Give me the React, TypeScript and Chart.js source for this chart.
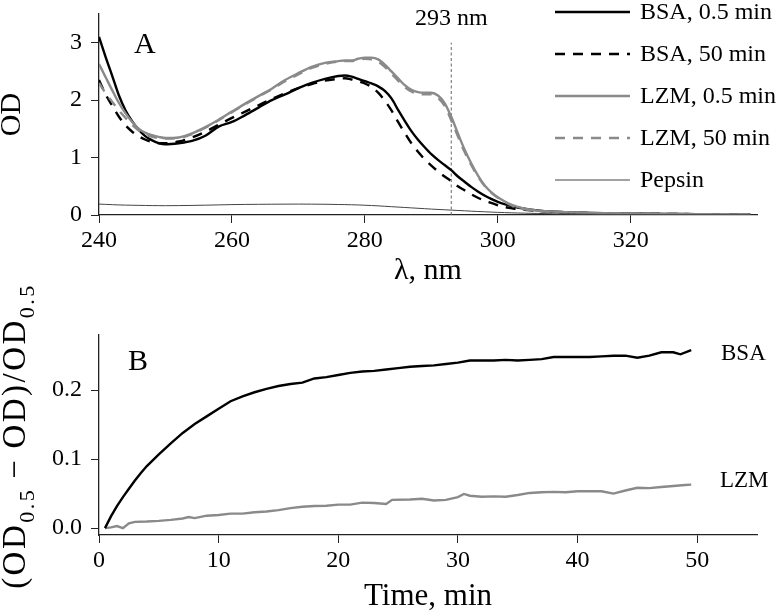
import React, { useEffect, useRef } from 'react';
import { Chart, registerables } from 'chart.js';

Chart.register(...registerables);

const SERIF = '"Liberation Serif", "Times New Roman", serif';

// ---------- Panel A: absorption spectra ----------
const wavelength = [
  240, 241, 242, 243, 244, 245, 246, 247, 248, 249,
  250, 252, 254, 256, 258, 260, 262, 264, 266, 268,
  270, 272, 274, 276, 277, 278, 279, 280, 281, 282,
  283, 284, 285, 286, 287, 288, 289, 290, 291, 292,
  293, 294, 295, 296, 297, 298, 299, 300, 301, 302,
  303, 304, 306, 308, 310, 313, 316, 320, 325, 330,
  338,
];
const bsa05 = [
  3.10, 2.75, 2.42, 2.08, 1.82, 1.63, 1.48, 1.37, 1.30, 1.25,
  1.23, 1.25, 1.29, 1.38, 1.54, 1.62, 1.74, 1.87, 2.00, 2.10,
  2.21, 2.30, 2.37, 2.42, 2.43, 2.41, 2.37, 2.33, 2.29, 2.24,
  2.16, 2.03, 1.83, 1.64, 1.46, 1.31, 1.18, 1.06, 0.96, 0.87,
  0.78, 0.67, 0.58, 0.49, 0.41, 0.34, 0.28, 0.23, 0.19, 0.16,
  0.13, 0.11, 0.08, 0.06, 0.05, 0.04, 0.03, 0.025, 0.02, 0.015,
  0.01,
];
const bsa50 = [
  2.35, 2.10, 1.90, 1.71, 1.56, 1.45, 1.37, 1.31, 1.27, 1.25,
  1.25, 1.28, 1.35, 1.45, 1.57, 1.69, 1.80, 1.91, 2.02, 2.12,
  2.21, 2.28, 2.34, 2.37, 2.38, 2.36, 2.33, 2.29, 2.23, 2.13,
  1.99, 1.82, 1.62, 1.43, 1.25, 1.10, 0.97, 0.86, 0.76, 0.67,
  0.59, 0.50, 0.43, 0.36, 0.30, 0.25, 0.21, 0.17, 0.14, 0.12,
  0.10, 0.09, 0.07, 0.05, 0.045, 0.035, 0.03, 0.025, 0.02, 0.015,
  0.01,
];
const lzm05 = [
  2.63, 2.40, 2.17, 1.95, 1.77, 1.62, 1.50, 1.43, 1.39, 1.36,
  1.34, 1.35, 1.42, 1.53, 1.66, 1.80, 1.94, 2.07, 2.20, 2.35,
  2.47, 2.58, 2.65, 2.68, 2.69, 2.69, 2.72, 2.74, 2.74, 2.71,
  2.62, 2.50, 2.38, 2.26, 2.18, 2.14, 2.13, 2.13, 2.08, 1.95,
  1.71, 1.42, 1.14, 0.90, 0.69, 0.52, 0.40, 0.31, 0.24, 0.18,
  0.14, 0.11, 0.075, 0.06, 0.05, 0.04, 0.03, 0.025, 0.02, 0.015,
  0.01,
];
const lzm50 = [
  2.30, 2.12, 1.97, 1.82, 1.69, 1.57, 1.47, 1.40, 1.36, 1.34,
  1.33, 1.34, 1.41, 1.52, 1.65, 1.79, 1.93, 2.06, 2.19, 2.33,
  2.45, 2.56, 2.63, 2.67, 2.68, 2.68, 2.70, 2.72, 2.71, 2.67,
  2.58, 2.46, 2.34, 2.23, 2.15, 2.11, 2.10, 2.10, 2.04, 1.90,
  1.65, 1.37, 1.10, 0.87, 0.67, 0.51, 0.39, 0.30, 0.23, 0.17,
  0.13, 0.10, 0.07, 0.055, 0.045, 0.035, 0.03, 0.025, 0.02, 0.015,
  0.01,
];
const pepsin = [
  0.19, 0.185, 0.18, 0.175, 0.172, 0.17, 0.168, 0.166, 0.164, 0.163,
  0.162, 0.164, 0.167, 0.171, 0.176, 0.181, 0.184, 0.186, 0.188, 0.189,
  0.19, 0.189, 0.187, 0.183, 0.181, 0.178, 0.175, 0.17, 0.165, 0.159,
  0.152, 0.145, 0.138, 0.131, 0.124, 0.117, 0.11, 0.103, 0.097, 0.091,
  0.085, 0.079, 0.073, 0.067, 0.061, 0.056, 0.051, 0.046, 0.042, 0.038,
  0.035, 0.032, 0.027, 0.022, 0.018, 0.014, 0.011, 0.009, 0.007, 0.006,
  0.004,
];
const spectraLabels = ['BSA, 0.5 min', 'BSA, 50 min', 'LZM, 0.5 min', 'LZM, 50 min', 'Pepsin'];
const markerWavelength = 293;
const markerTop = 3.0;
const markerLabel = '293 nm';

// ---------- Panel B: kinetics ----------
const bsaTime = [
  0.5, 1, 1.5, 2, 2.5, 3, 3.5, 4,
  5, 6, 7, 8, 9, 10, 11, 12, 13, 14, 15, 16, 17, 18, 19, 20, 21, 22, 23, 24, 25, 26,
  27, 28, 29, 30, 31, 32, 33, 34, 35, 36, 37, 38, 39, 40, 41, 42, 43, 44, 45, 46, 47, 48,
  48.6, 49.5,
];
const bsaRatio = [
  0, 0.017, 0.032, 0.045, 0.057, 0.069, 0.08, 0.09,
  0.107, 0.123, 0.138, 0.151, 0.162, 0.173, 0.184, 0.191, 0.197, 0.202, 0.206, 0.209,
  0.211, 0.217, 0.219, 0.222, 0.225, 0.227, 0.228, 0.230, 0.232, 0.234,
  0.235, 0.236, 0.238, 0.240, 0.243, 0.243, 0.243, 0.244, 0.243, 0.244, 0.245, 0.248,
  0.248, 0.248, 0.248, 0.249, 0.250, 0.250, 0.247, 0.250, 0.255, 0.255,
  0.252, 0.258,
];
const lzmTime = [
  0.5, 1, 1.5, 2, 2.5, 3, 4, 5, 6, 7, 7.5,
  8, 9, 10, 11, 12, 13, 14, 15, 16, 17, 18, 19, 20, 21, 22, 23, 24, 24.5,
  26, 27, 28, 29, 30, 30.5,
  31, 32, 33, 34, 35, 36, 37, 38, 39, 40, 41, 42, 43, 44, 45, 46, 47, 48, 49, 49.5,
];
const lzmRatio = [
  0, 0.001, 0.003, 0, 0.007, 0.009, 0.0095, 0.0105, 0.012, 0.014, 0.016,
  0.0145, 0.018, 0.019, 0.021, 0.021, 0.023, 0.024, 0.026, 0.029, 0.031, 0.032, 0.0325,
  0.034, 0.034, 0.037, 0.0365, 0.035, 0.041,
  0.0415, 0.0425, 0.040, 0.041, 0.045, 0.0495,
  0.047, 0.0455, 0.046, 0.0455, 0.048, 0.051, 0.052, 0.0525, 0.052, 0.0535, 0.0535,
  0.0535, 0.050, 0.0545, 0.0585, 0.058, 0.0595, 0.061, 0.0625, 0.063,
];
const kineticsLabels = ['BSA', 'LZM'];
const panelLabels = ['A', 'B'];

const BLACK = '#000000';
const GREY = '#8a8a8a';
const AXIS = '#222222';

const tickFont = { family: SERIF, size: 24 };
const titleFontSize = 30;

// canvas B overlaps canvas A so its rotated y title can rise above y=300
const B_TOP = 250;

function axisCommon() {
  return {
    grid: { drawOnChartArea: false, drawTicks: true, tickLength: 8, color: AXIS, lineWidth: 1 },
    border: { display: true, color: AXIS, width: 1.3 },
  };
}

const legendPlugin = {
  id: 'panelA',
  afterDraw(chart: any) {
    const { ctx, scales } = chart;
    const x = scales.x;
    ctx.save();
    ctx.fillStyle = '#000';
    ctx.font = `30px ${SERIF}`;
    ctx.textAlign = 'left';
    ctx.textBaseline = 'alphabetic';
    ctx.fillText(panelLabels[0], 134, 53);

    ctx.font = `24px ${SERIF}`;
    ctx.textAlign = 'center';
    ctx.textBaseline = 'middle';
    ctx.fillText(markerLabel, x.getPixelForValue(markerWavelength), 19);

    const items = chart.data.datasets.filter((d: any) => d.label);
    items.forEach((ds: any, i: number) => {
      const yy = 12 + 42 * i;
      ctx.strokeStyle = ds.borderColor;
      ctx.lineWidth = ds.borderWidth;
      ctx.setLineDash(ds.borderDash || []);
      ctx.beginPath();
      ctx.moveTo(555, yy);
      ctx.lineTo(630, yy);
      ctx.stroke();
      ctx.setLineDash([]);
      ctx.font = `24px ${SERIF}`;
      ctx.textAlign = 'left';
      ctx.textBaseline = 'middle';
      ctx.fillStyle = '#000';
      ctx.fillText(ds.label, 640, yy + 1);
    });
    ctx.restore();
  },
};

const panelBPlugin = {
  id: 'panelB',
  afterDraw(chart: any) {
    const { ctx, chartArea } = chart;
    ctx.save();
    ctx.fillStyle = '#000';
    ctx.font = `30px ${SERIF}`;
    ctx.textAlign = 'left';
    ctx.textBaseline = 'alphabetic';
    ctx.fillText(panelLabels[1], 128, 370 - B_TOP);

    ctx.font = `23px ${SERIF}`;
    ctx.textBaseline = 'middle';
    ctx.fillText(kineticsLabels[0], 721, 354 - B_TOP);
    ctx.fillText(kineticsLabels[1], 720, 481 - B_TOP);

    // rotated y-axis title with subscripts, centred on the plot area
    const parts: Array<[string, boolean, number]> = [
      ['(OD', false, 0],
      ['0.5', true, 9],
      ['\u2212', false, 9],
      ['OD)/OD', false, 0],
      ['0.5', true, 0],
    ];
    const mainFont = `33px ${SERIF}`;
    const subFont = `22px ${SERIF}`;
    (ctx as any).letterSpacing = '2.5px';
    let total = 0;
    const widths = parts.map(([t, sub, gap]) => {
      ctx.font = sub ? subFont : mainFont;
      const w = ctx.measureText(t).width;
      total += w + gap;
      return w;
    });
    ctx.translate(25, (chartArea.top + chartArea.bottom) / 2 + 1);
    ctx.rotate(-Math.PI / 2);
    ctx.textAlign = 'left';
    ctx.textBaseline = 'alphabetic';
    let cx = -total / 2;
    parts.forEach(([t, sub, gap], i) => {
      ctx.font = sub ? subFont : mainFont;
      ctx.fillText(t, cx, sub ? 9 : 0);
      cx += widths[i] + gap;
    });
    (ctx as any).letterSpacing = '0px';
    ctx.restore();
  },
};

function spectraConfig(): any {
  const colors = [BLACK, BLACK, GREY, GREY, '#444444'];
  const widths = [2.4, 2.4, 2.4, 2.4, 1];
  const dashes = [[], [10, 8], [], [10, 8], []];
  const series = [bsa05, bsa50, lzm05, lzm50, pepsin];
  const datasets: any[] = series.map((vals, i) => ({
    label: spectraLabels[i],
    data: wavelength.map((w, j) => ({ x: w, y: vals[j] })),
    borderColor: colors[i],
    borderWidth: widths[i],
    borderDash: dashes[i],
    pointRadius: 0,
    cubicInterpolationMode: 'monotone',
    fill: false,
    order: 10 - i,
  }));
  datasets.push({
    label: '',
    data: [
      { x: markerWavelength, y: 0 },
      { x: markerWavelength, y: markerTop },
    ],
    borderColor: '#666666',
    borderWidth: 1,
    borderDash: [3, 2.5],
    pointRadius: 0,
    tension: 0,
    fill: false,
    order: 20,
  });
  return {
    type: 'line',
    data: { datasets },
    options: {
      animation: false,
      responsive: false,
      layout: { padding: { left: 0, right: 21, top: 14, bottom: 0 } },
      plugins: { legend: { display: false }, tooltip: { enabled: false } },
      scales: {
        x: {
          type: 'linear',
          min: 240,
          max: 339,
          ...axisCommon(),
          ticks: { stepSize: 20, includeBounds: false, color: '#000', font: tickFont, padding: 3, maxRotation: 0, autoSkip: false },
          title: {
            display: true,
            text: '\u03bb, nm',
            color: '#000',
            font: { family: SERIF, size: titleFontSize, lineHeight: 1.2 },
            padding: { top: 0, bottom: 11 },
          },
          afterFit: (s: any) => {
            s.height = 85;
            s.paddingLeft = 0;
            s.paddingRight = 0;
          },
        },
        y: {
          type: 'linear',
          min: 0,
          max: 3.5,
          ...axisCommon(),
          ticks: { stepSize: 1, includeBounds: false, color: '#000', font: tickFont, padding: 9 },
          title: {
            display: true,
            text: 'OD',
            color: '#000',
            font: { family: SERIF, size: titleFontSize, lineHeight: 0.83 },
            padding: { top: 0, bottom: 0 },
          },
          afterFit: (s: any) => {
            s.width = 99;
            s.paddingTop = 0;
            s.paddingBottom = 0;
          },
        },
      },
    },
    plugins: [legendPlugin],
  };
}

function kineticsConfig(): any {
  const datasets = [
    {
      label: kineticsLabels[0],
      data: bsaTime.map((t, i) => ({ x: t, y: bsaRatio[i] })),
      borderColor: BLACK,
      borderWidth: 2.4,
      pointRadius: 0,
      tension: 0,
      fill: false,
    },
    {
      label: kineticsLabels[1],
      data: lzmTime.map((t, i) => ({ x: t, y: lzmRatio[i] })),
      borderColor: GREY,
      borderWidth: 2.4,
      pointRadius: 0,
      tension: 0,
      fill: false,
    },
  ];
  return {
    type: 'line',
    data: { datasets },
    options: {
      animation: false,
      responsive: false,
      layout: { padding: { left: 0, right: 21, top: 335 - B_TOP, bottom: 0 } },
      plugins: { legend: { display: false }, tooltip: { enabled: false } },
      scales: {
        x: {
          type: 'linear',
          min: 0,
          max: 55,
          ...axisCommon(),
          ticks: { stepSize: 10, includeBounds: false, color: '#000', font: tickFont, padding: 3, maxRotation: 0, autoSkip: false },
          title: {
            display: true,
            text: 'Time, min',
            color: '#000',
            font: { family: SERIF, size: 31, lineHeight: 0.95 },
            padding: { top: 0, bottom: 0 },
          },
          afterFit: (s: any) => {
            s.height = 77;
            s.paddingLeft = 0;
            s.paddingRight = 0;
          },
        },
        y: {
          type: 'linear',
          min: -0.01,
          max: 0.28,
          ...axisCommon(),
          ticks: {
            stepSize: 0.1,
            includeBounds: false,
            color: '#000',
            font: tickFont,
            padding: 9,
            callback: (v: any) => Number(v).toFixed(1),
          },
          title: { display: false },
          afterFit: (s: any) => {
            s.width = 99;
            s.paddingTop = 0;
            s.paddingBottom = 0;
          },
        },
      },
    },
    plugins: [panelBPlugin],
  };
}

export default function App() {
  const refA = useRef<HTMLCanvasElement>(null);
  const refB = useRef<HTMLCanvasElement>(null);

  useEffect(() => {
    const a = new Chart(refA.current as HTMLCanvasElement, spectraConfig());
    const b = new Chart(refB.current as HTMLCanvasElement, kineticsConfig());
    return () => {
      a.destroy();
      b.destroy();
    };
  }, []);

  const hB = 612 - B_TOP;
  return (
    <div style={{ position: 'absolute', left: 0, top: 0, width: 778, height: 612, background: '#ffffff' }}>
      <canvas
        ref={refA}
        width={778}
        height={300}
        style={{ position: 'absolute', left: 0, top: 0, display: 'block', width: 778, height: 300 }}
      />
      <canvas
        ref={refB}
        width={778}
        height={hB}
        style={{ position: 'absolute', left: 0, top: B_TOP, display: 'block', width: 778, height: hB }}
      />
    </div>
  );
}
